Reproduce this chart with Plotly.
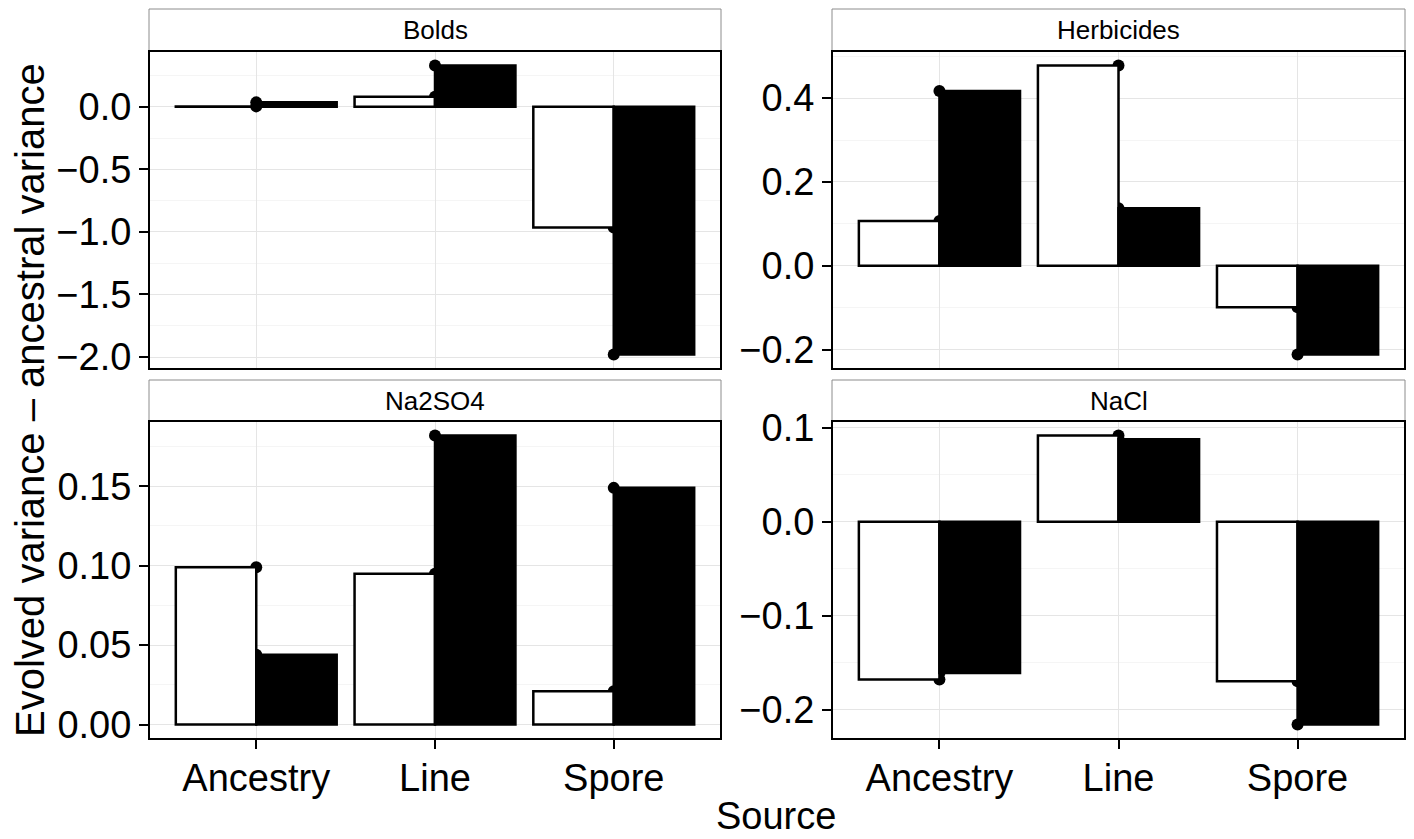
import plotly.graph_objects as go

# ---- data ----
categories = ["Ancestry", "Line", "Spore"]
panels = ["Bolds", "Herbicides", "Na2SO4", "NaCl"]

bolds_open = [0.003, 0.08, -0.965]
bolds_filled = [0.035, 0.33, -1.98]
herb_open = [0.107, 0.478, -0.099]
herb_filled = [0.417, 0.137, -0.212]
na2so4_open = [0.099, 0.095, 0.021]
na2so4_filled = [0.044, 0.182, 0.149]
nacl_open = [-0.168, 0.092, -0.170]
nacl_filled = [-0.161, 0.088, -0.216]

open_values = [bolds_open, herb_open, na2so4_open, nacl_open]
filled_values = [bolds_filled, herb_filled, na2so4_filled, nacl_filled]
y_dticks = [0.5, 0.2, 0.05, 0.1]
y_formats = [".1f", ".1f", ".2f", ".1f"]

# ---- layout geometry (pixels in a 1414x839 canvas) ----
W, H = 1414, 839
FONT = "Liberation Sans, Arial, Helvetica, sans-serif"
col_px = [(149, 721), (832, 1405)]
row_px = [(51, 369), (421, 739)]
strip_px = [(9, 51), (380, 421)]


def px_x(a, b):
    return [a / W, b / W]


def px_y(top, bottom):
    return [1 - bottom / H, 1 - top / H]


fig = go.Figure()
layout = dict(
    width=W, height=H, autosize=False,
    margin=dict(l=0, r=0, t=0, b=0, pad=0, autoexpand=False),
    paper_bgcolor="white", plot_bgcolor="white",
    showlegend=False,
    barmode="group", bargap=0.1, bargroupgap=0.0,
    font=dict(family=FONT, color="black"),
)

shapes = []
annotations = []

for i, name in enumerate(panels):
    r, c = divmod(i, 2)
    sfx = "" if i == 0 else str(i + 1)
    xa, ya = "x" + sfx, "y" + sfx
    ov, fv = open_values[i], filled_values[i]

    fig.add_trace(go.Scatter(
        x=categories + categories, y=ov + fv, mode="markers",
        marker=dict(color="black", size=12),
        xaxis=xa, yaxis=ya, zorder=0, cliponaxis=False,
    ))
    fig.add_trace(go.Bar(
        x=categories, y=ov, marker=dict(color="white", line=dict(color="black", width=2.5)),
        xaxis=xa, yaxis=ya, zorder=1, name="open",
    ))
    fig.add_trace(go.Bar(
        x=categories, y=fv, marker=dict(color="black", line=dict(color="black", width=2.5)),
        xaxis=xa, yaxis=ya, zorder=1, name="filled",
    ))

    allv = ov + fv + [0]
    lo, hi = min(allv), max(allv)
    span = hi - lo
    yrange = [lo - 0.05 * span, hi + 0.05 * span]

    bottom_row = r == 1
    layout["xaxis" + sfx] = dict(
        domain=px_x(*col_px[c]), anchor=ya,
        type="category", categoryorder="array", categoryarray=categories,
        range=[-0.6, 2.6],
        showgrid=True, gridcolor="#E5E5E5", gridwidth=1,
        showline=False,
        ticks="outside" if bottom_row else "", ticklen=9, tickwidth=2, tickcolor="black",
        showticklabels=bottom_row, ticklabelstandoff=-4,
        tickfont=dict(family=FONT, size=38, color="black"),
        zeroline=False, fixedrange=True, automargin=False,
    )
    layout["yaxis" + sfx] = dict(
        domain=px_y(*row_px[r]), anchor=xa,
        range=yrange, dtick=y_dticks[i], tick0=0, tickformat=y_formats[i],
        showgrid=True, gridcolor="#E5E5E5", gridwidth=1,
        minor=dict(dtick=y_dticks[i] / 2, tick0=0, showgrid=True,
                   gridcolor="#F5F5F5", gridwidth=1, ticks=""),
        showline=False,
        ticks="outside", ticklen=9, tickwidth=2, tickcolor="black",
        ticklabelstandoff=0,
        tickfont=dict(family=FONT, size=38, color="black"),
        zeroline=False, fixedrange=True, automargin=False,
    )

    # panel border
    shapes.append(dict(
        type="rect", xref=xa + " domain", yref=ya + " domain",
        x0=0, x1=1, y0=0, y1=1, line=dict(color="black", width=2),
        fillcolor="rgba(0,0,0,0)", layer="above",
    ))

    sx0, sx1 = col_px[c]
    st, sb = strip_px[r]
    shapes.append(dict(
        type="rect", xref="paper", yref="paper",
        x0=sx0 / W, x1=sx1 / W, y0=1 - sb / H, y1=1 - st / H,
        fillcolor="white", line=dict(color="#8C8C8C", width=1), layer="below",
    ))
    annotations.append(dict(
        text=name, xref="paper", yref="paper",
        x=(sx0 + sx1) / 2 / W, y=1 - (st + sb) / 2 / H,
        xanchor="center", yanchor="middle", showarrow=False,
        font=dict(family=FONT, size=26, color="black"),
    ))

annotations.append(dict(
    text="Evolved variance \u2013 ancestral variance", xref="paper", yref="paper",
    x=30 / W, y=1 - 400 / H, textangle=-90, xanchor="center", yanchor="middle",
    showarrow=False, font=dict(family=FONT, size=40, color="black"),
))
annotations.append(dict(
    text="Source", xref="paper", yref="paper",
    x=776 / W, y=1 - 816 / H, xanchor="center", yanchor="middle",
    showarrow=False, font=dict(family=FONT, size=38, color="black"),
))

layout["shapes"] = shapes
layout["annotations"] = annotations
fig.update_layout(**layout)
fig.write_html("out.html")
